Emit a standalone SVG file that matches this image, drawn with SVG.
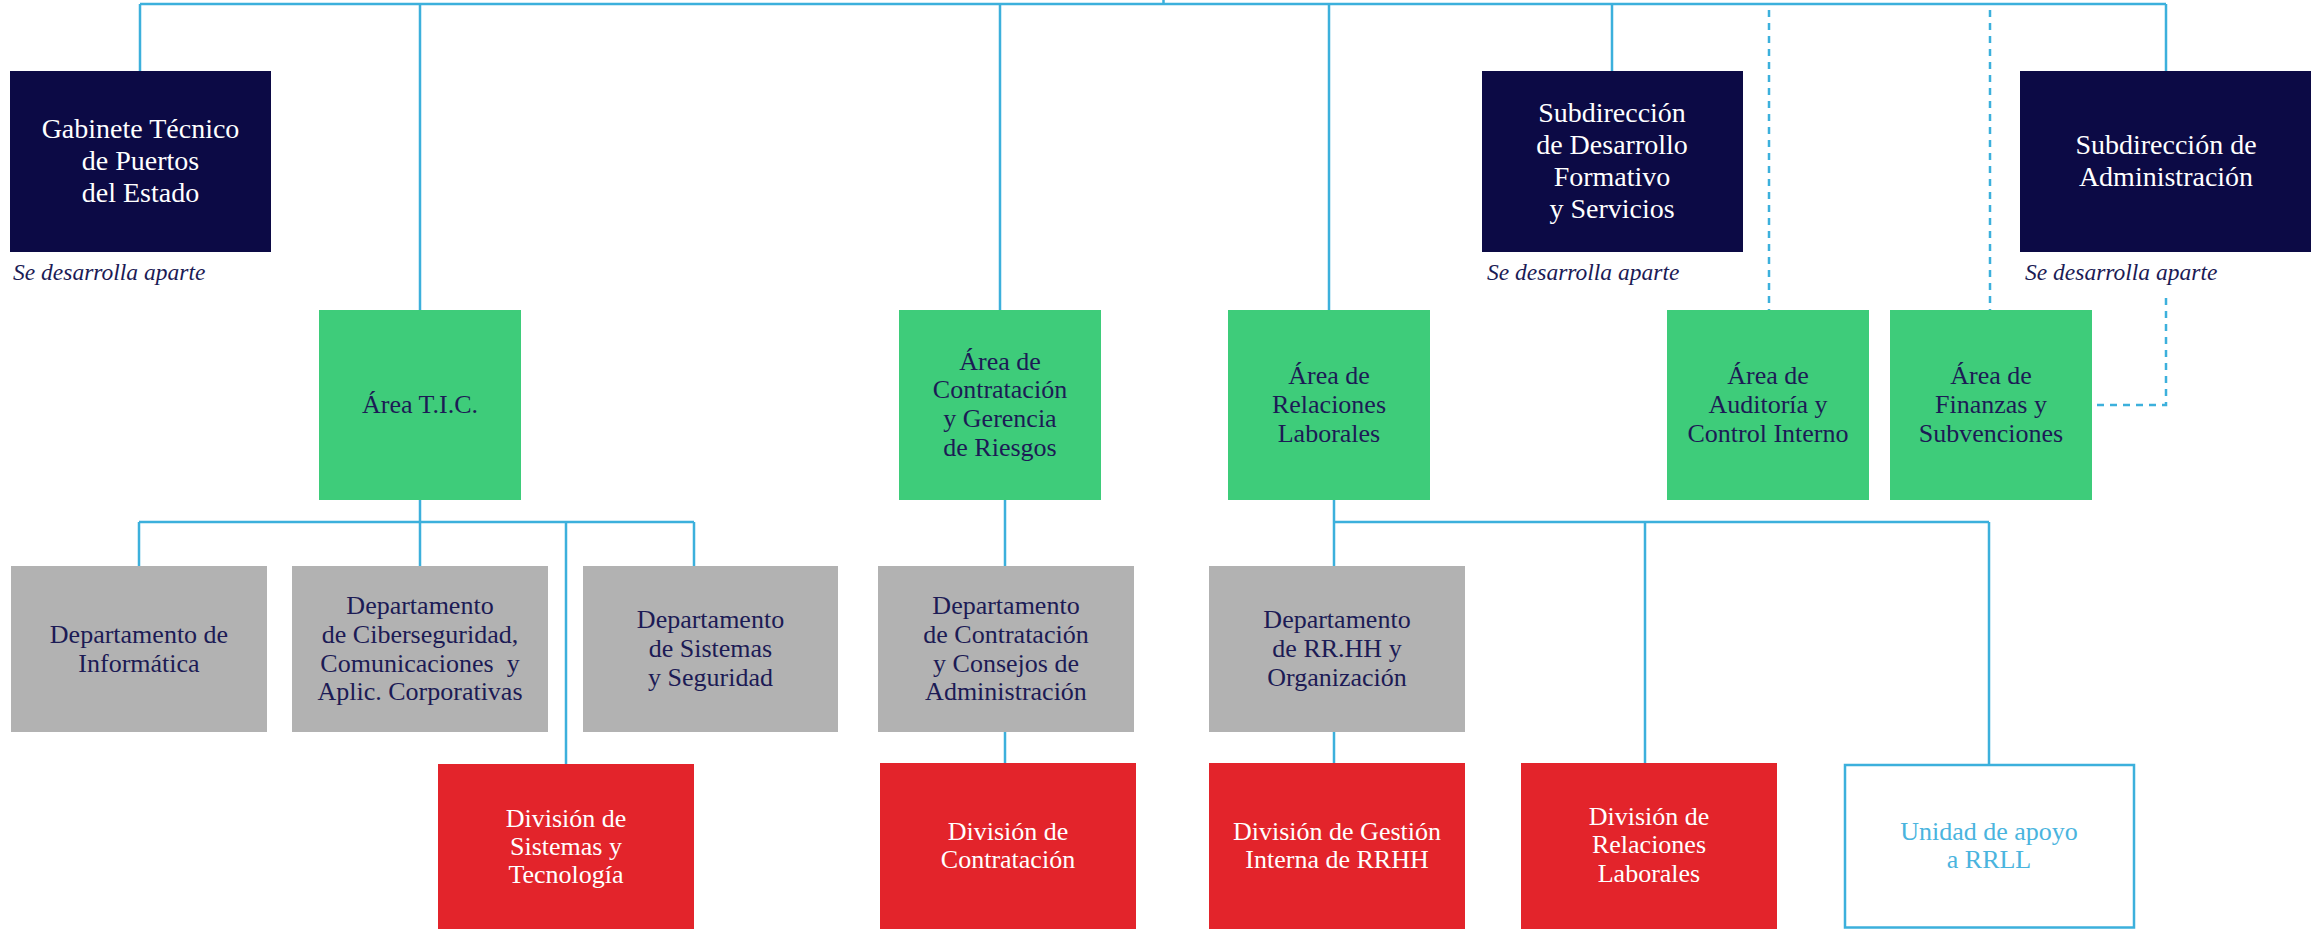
<svg xmlns="http://www.w3.org/2000/svg" width="2321" height="929" viewBox="0 0 2321 929">
<style>
.navy{fill:#0c0a45}
.green{fill:#3ecc7a}
.gray{fill:#b2b2b2}
.red{fill:#e3242b}
.outline{fill:#ffffff;stroke:#3cb0dc;stroke-width:2.5}
text{font-family:"Liberation Serif","DejaVu Serif",serif;text-anchor:middle}
.tw{fill:#ffffff;font-size:28px}
.td{fill:#1c1b55;font-size:26px}
.tr{fill:#ffffff;font-size:26px}
.tb{fill:#4ab4de;font-size:26px}
.note{fill:#1c1b55;font-size:23.5px;font-style:italic;text-anchor:start}
.ln{fill:none;stroke:#3cb0dc;stroke-width:2.5}
.dash{fill:none;stroke:#3cb0dc;stroke-width:2.5;stroke-dasharray:7 6}
</style>
<g id="connectors">
<path class="ln" d="M1163.5 0V4M140 4H2166M140 4V71M420 4V310M1000 4V310M1329 4V310M1612 4V71M2166 4V71"/>
<path class="dash" d="M1769 10V310M1990 10V310M2166 298V405H2092"/>
<path class="ln" d="M420 500V566M139 522H694M139 522V566M694 522V566M566 522V764"/>
<path class="ln" d="M1005 500V566M1005 732V763"/>
<path class="ln" d="M1334 500V566M1334 522H1989M1645 522V763M1989 522V764M1334 732V763"/>
</g>
<g id="gabinete">
<rect class="navy" x="10" y="71" width="261" height="181"/>
<text class="tw" x="140.5" y="138">Gabinete Técnico</text>
<text class="tw" x="140.5" y="170">de Puertos</text>
<text class="tw" x="140.5" y="202">del Estado</text>
<text class="note" x="13" y="280">Se desarrolla aparte</text>
</g>
<g id="sub-desarrollo">
<rect class="navy" x="1482" y="71" width="261" height="181"/>
<text class="tw" x="1612" y="122">Subdirección</text>
<text class="tw" x="1612" y="154">de Desarrollo</text>
<text class="tw" x="1612" y="186">Formativo</text>
<text class="tw" x="1612" y="218">y Servicios</text>
<text class="note" x="1487" y="280">Se desarrolla aparte</text>
</g>
<g id="sub-administracion">
<rect class="navy" x="2020" y="71" width="291" height="181"/>
<text class="tw" x="2166" y="154">Subdirección de</text>
<text class="tw" x="2166" y="186">Administración</text>
<text class="note" x="2025" y="280">Se desarrolla aparte</text>
</g>
<g id="area-tic">
<rect class="green" x="319" y="310" width="202" height="190"/>
<text class="td" x="420" y="413">Área T.I.C.</text>
</g>
<g id="area-contratacion">
<rect class="green" x="899" y="310" width="202" height="190"/>
<text class="td" x="1000" y="370">Área de</text>
<text class="td" x="1000" y="398">Contratación</text>
<text class="td" x="1000" y="427">y Gerencia</text>
<text class="td" x="1000" y="456">de Riesgos</text>
</g>
<g id="area-relaciones">
<rect class="green" x="1228" y="310" width="202" height="190"/>
<text class="td" x="1329" y="384">Área de</text>
<text class="td" x="1329" y="413">Relaciones</text>
<text class="td" x="1329" y="442">Laborales</text>
</g>
<g id="area-auditoria">
<rect class="green" x="1667" y="310" width="202" height="190"/>
<text class="td" x="1768" y="384">Área de</text>
<text class="td" x="1768" y="413">Auditoría y</text>
<text class="td" x="1768" y="442">Control Interno</text>
</g>
<g id="area-finanzas">
<rect class="green" x="1890" y="310" width="202" height="190"/>
<text class="td" x="1991" y="384">Área de</text>
<text class="td" x="1991" y="413">Finanzas y</text>
<text class="td" x="1991" y="442">Subvenciones</text>
</g>
<g id="dep-informatica">
<rect class="gray" x="11" y="566" width="256" height="166"/>
<text class="td" x="139" y="643">Departamento de</text>
<text class="td" x="139" y="672">Informática</text>
</g>
<g id="dep-ciberseguridad">
<rect class="gray" x="292" y="566" width="256" height="166"/>
<text class="td" x="420" y="614">Departamento</text>
<text class="td" x="420" y="643">de Ciberseguridad,</text>
<text class="td" x="420" y="672" xml:space="preserve">Comunicaciones  y</text>
<text class="td" x="420" y="700">Aplic. Corporativas</text>
</g>
<g id="dep-sistemas">
<rect class="gray" x="583" y="566" width="255" height="166"/>
<text class="td" x="710.5" y="628">Departamento</text>
<text class="td" x="710.5" y="657">de Sistemas</text>
<text class="td" x="710.5" y="686">y Seguridad</text>
</g>
<g id="div-sistemas">
<rect class="red" x="438" y="764" width="256" height="165"/>
<text class="tr" x="566" y="827">División de</text>
<text class="tr" x="566" y="855">Sistemas y</text>
<text class="tr" x="566" y="883">Tecnología</text>
</g>
<g id="dep-contratacion">
<rect class="gray" x="878" y="566" width="256" height="166"/>
<text class="td" x="1006" y="614">Departamento</text>
<text class="td" x="1006" y="643">de Contratación</text>
<text class="td" x="1006" y="672">y Consejos de</text>
<text class="td" x="1006" y="700">Administración</text>
</g>
<g id="div-contratacion">
<rect class="red" x="880" y="763" width="256" height="166"/>
<text class="tr" x="1008" y="840">División de</text>
<text class="tr" x="1008" y="868">Contratación</text>
</g>
<g id="dep-rrhh">
<rect class="gray" x="1209" y="566" width="256" height="166"/>
<text class="td" x="1337" y="628">Departamento</text>
<text class="td" x="1337" y="657">de RR.HH y</text>
<text class="td" x="1337" y="686">Organización</text>
</g>
<g id="div-gestion">
<rect class="red" x="1209" y="763" width="256" height="166"/>
<text class="tr" x="1337" y="840">División de Gestión</text>
<text class="tr" x="1337" y="868">Interna de RRHH</text>
</g>
<g id="div-relaciones">
<rect class="red" x="1521" y="763" width="256" height="166"/>
<text class="tr" x="1649" y="825">División de</text>
<text class="tr" x="1649" y="853">Relaciones</text>
<text class="tr" x="1649" y="882">Laborales</text>
</g>
<g id="unidad-apoyo">
<rect class="outline" x="1845" y="765" width="289" height="162.5"/>
<text class="tb" x="1989" y="840">Unidad de apoyo</text>
<text class="tb" x="1989" y="868">a RRLL</text>
</g>
</svg>
